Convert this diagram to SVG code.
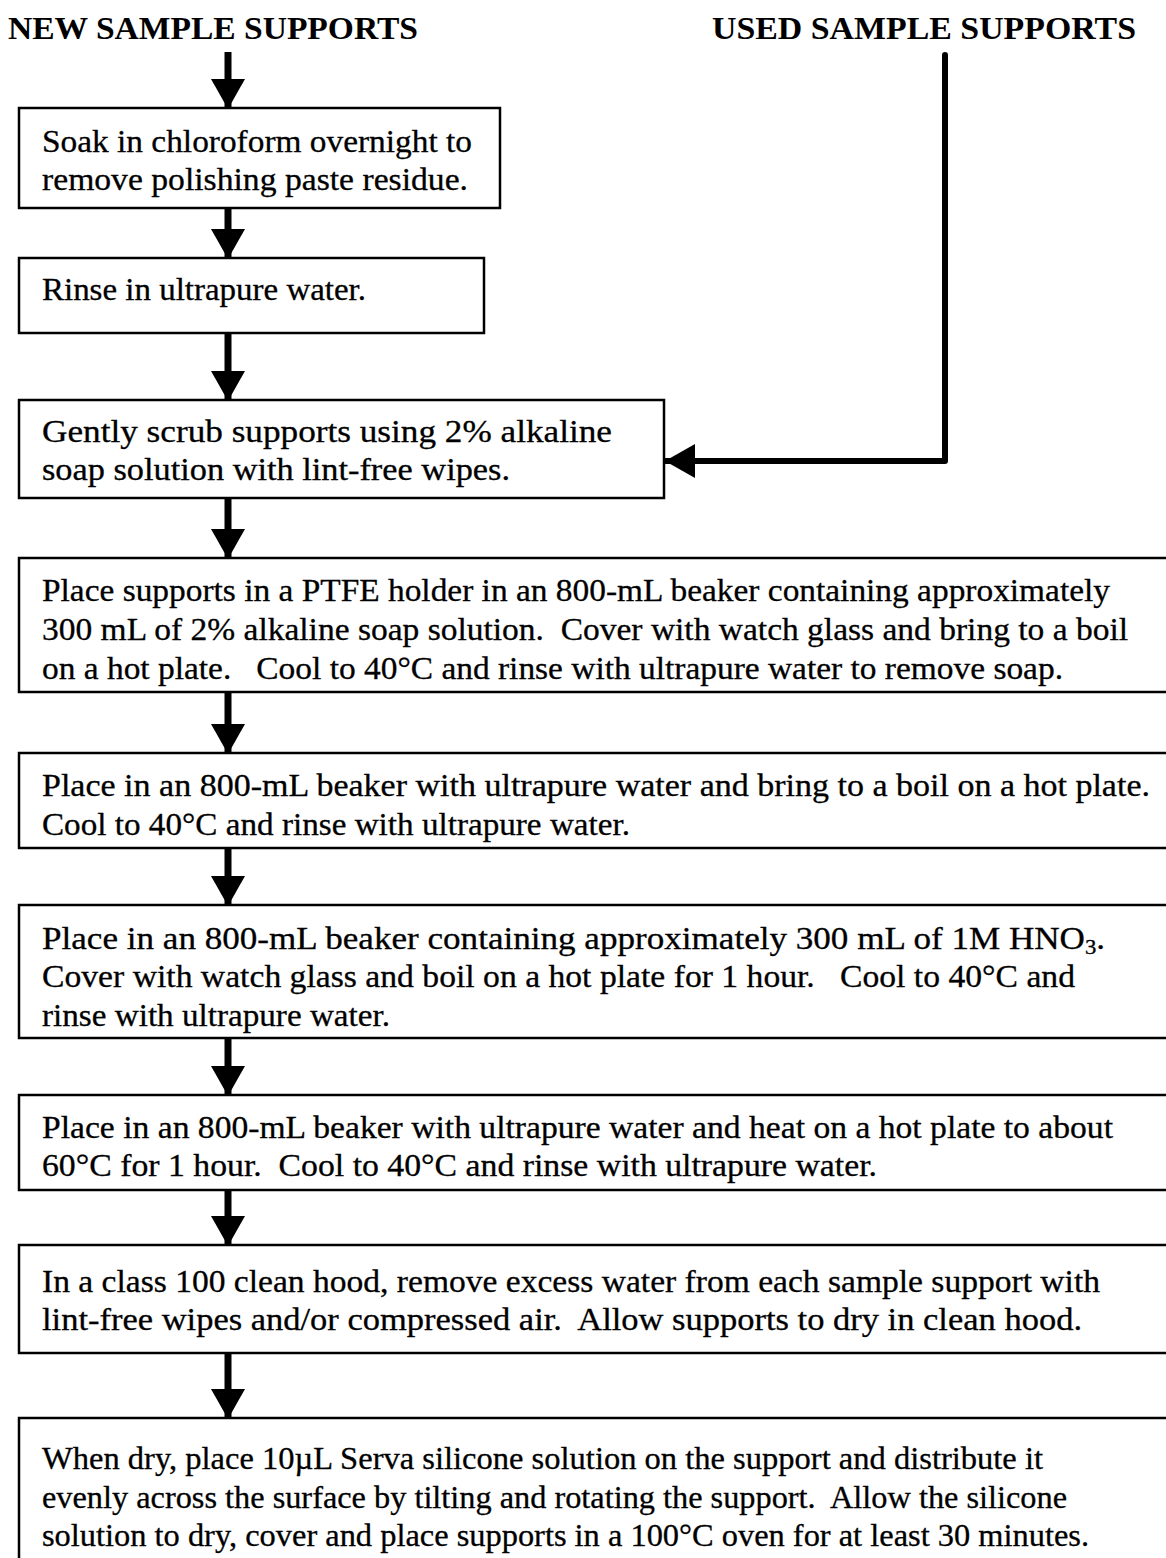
<svg xmlns="http://www.w3.org/2000/svg" width="1166" height="1558" viewBox="0 0 1166 1558">
<style>
.box{fill:#fff;stroke:#000;stroke-width:2.5}
.t{font-family:"Liberation Serif","Times New Roman",serif;font-size:31px;fill:#000;stroke:#000;stroke-width:0.3;white-space:pre}
.h{font-family:"Liberation Serif","Times New Roman",serif;font-size:31px;font-weight:bold;fill:#000}
.c{fill:none;stroke:#000;stroke-width:7}
.u{fill:none;stroke:#000;stroke-width:6;stroke-linejoin:round;stroke-linecap:round}
</style>
<defs>
<marker id="ah" viewBox="0 0 30 34" refX="29" refY="17" markerWidth="30" markerHeight="34" markerUnits="userSpaceOnUse" orient="auto">
<path d="M0,0 L30,17 L0,34 z" fill="#000"/>
</marker>
</defs>
<rect width="1166" height="1558" fill="#fff"/>
<g id="hdr-new"><text class="h" x="8" y="39" textLength="410" lengthAdjust="spacingAndGlyphs">NEW SAMPLE SUPPORTS</text></g>
<g id="hdr-used"><text class="h" x="712" y="39" textLength="424" lengthAdjust="spacingAndGlyphs">USED SAMPLE SUPPORTS</text></g>

<g id="connectors">
<line class="c" x1="228" y1="52" x2="228" y2="108" marker-end="url(#ah)"/>
<line class="c" x1="228" y1="208" x2="228" y2="258" marker-end="url(#ah)"/>
<line class="c" x1="228" y1="333" x2="228" y2="400" marker-end="url(#ah)"/>
<line class="c" x1="228" y1="498" x2="228" y2="558" marker-end="url(#ah)"/>
<line class="c" x1="228" y1="692" x2="228" y2="753" marker-end="url(#ah)"/>
<line class="c" x1="228" y1="848" x2="228" y2="905" marker-end="url(#ah)"/>
<line class="c" x1="228" y1="1038" x2="228" y2="1095" marker-end="url(#ah)"/>
<line class="c" x1="228" y1="1190" x2="228" y2="1245" marker-end="url(#ah)"/>
<line class="c" x1="228" y1="1353" x2="228" y2="1418" marker-end="url(#ah)"/>
<path class="u" d="M945,55 V461 H666" marker-end="url(#ah)"/>
</g>

<g id="n1"><rect class="box" x="19" y="108" width="481" height="100"/>
<text class="t" x="42" y="152" textLength="430" lengthAdjust="spacingAndGlyphs">Soak in chloroform overnight to</text>
<text class="t" x="42" y="190" textLength="426" lengthAdjust="spacingAndGlyphs">remove polishing paste residue.</text></g>

<g id="n2"><rect class="box" x="19" y="258" width="465" height="75"/>
<text class="t" x="42" y="300" textLength="324" lengthAdjust="spacingAndGlyphs">Rinse in ultrapure water.</text></g>

<g id="n3"><rect class="box" x="19" y="400" width="645" height="98"/>
<text class="t" x="42" y="442" textLength="570" lengthAdjust="spacingAndGlyphs">Gently scrub supports using 2% alkaline</text>
<text class="t" x="42" y="480" textLength="468" lengthAdjust="spacingAndGlyphs">soap solution with lint-free wipes.</text></g>

<g id="n4"><rect class="box" x="19" y="558" width="1170" height="134"/>
<text class="t" x="42" y="601" textLength="1068" lengthAdjust="spacingAndGlyphs">Place supports in a PTFE holder in an 800-mL beaker containing approximately</text>
<text class="t" x="42" y="640" textLength="1086" lengthAdjust="spacingAndGlyphs">300 mL of 2% alkaline soap solution.  Cover with watch glass and bring to a boil</text>
<text class="t" x="42" y="679" textLength="1021" lengthAdjust="spacingAndGlyphs">on a hot plate.   Cool to 40°C and rinse with ultrapure water to remove soap.</text></g>

<g id="n5"><rect class="box" x="19" y="753" width="1170" height="95"/>
<text class="t" x="42" y="796" textLength="1108" lengthAdjust="spacingAndGlyphs">Place in an 800-mL beaker with ultrapure water and bring to a boil on a hot plate.</text>
<text class="t" x="42" y="835" textLength="588" lengthAdjust="spacingAndGlyphs">Cool to 40°C and rinse with ultrapure water.</text></g>

<g id="n6"><rect class="box" x="19" y="905" width="1170" height="133"/>
<text class="t" x="42" y="949" textLength="1063" lengthAdjust="spacingAndGlyphs">Place in an 800-mL beaker containing approximately 300 mL of 1M HNO<tspan font-size="20" dy="5">3</tspan><tspan dy="-5">.</tspan></text>
<text class="t" x="42" y="987" textLength="1033" lengthAdjust="spacingAndGlyphs">Cover with watch glass and boil on a hot plate for 1 hour.   Cool to 40°C and</text>
<text class="t" x="42" y="1026" textLength="348" lengthAdjust="spacingAndGlyphs">rinse with ultrapure water.</text></g>

<g id="n7"><rect class="box" x="19" y="1095" width="1170" height="95"/>
<text class="t" x="42" y="1138" textLength="1071" lengthAdjust="spacingAndGlyphs">Place in an 800-mL beaker with ultrapure water and heat on a hot plate to about</text>
<text class="t" x="42" y="1176" textLength="835" lengthAdjust="spacingAndGlyphs">60°C for 1 hour.  Cool to 40°C and rinse with ultrapure water.</text></g>

<g id="n8"><rect class="box" x="19" y="1245" width="1170" height="108"/>
<text class="t" x="42" y="1292" textLength="1058" lengthAdjust="spacingAndGlyphs">In a class 100 clean hood, remove excess water from each sample support with</text>
<text class="t" x="42" y="1330" textLength="1040" lengthAdjust="spacingAndGlyphs">lint-free wipes and/or compressed air.  Allow supports to dry in clean hood.</text></g>

<g id="n9"><rect class="box" x="19" y="1418" width="1170" height="160"/>
<text class="t" x="42" y="1469" textLength="1001" lengthAdjust="spacingAndGlyphs">When dry, place 10µL Serva silicone solution on the support and distribute it</text>
<text class="t" x="42" y="1508" textLength="1025" lengthAdjust="spacingAndGlyphs">evenly across the surface by tilting and rotating the support.  Allow the silicone</text>
<text class="t" x="42" y="1546" textLength="1047" lengthAdjust="spacingAndGlyphs">solution to dry, cover and place supports in a 100°C oven for at least 30 minutes.</text></g>
</svg>
